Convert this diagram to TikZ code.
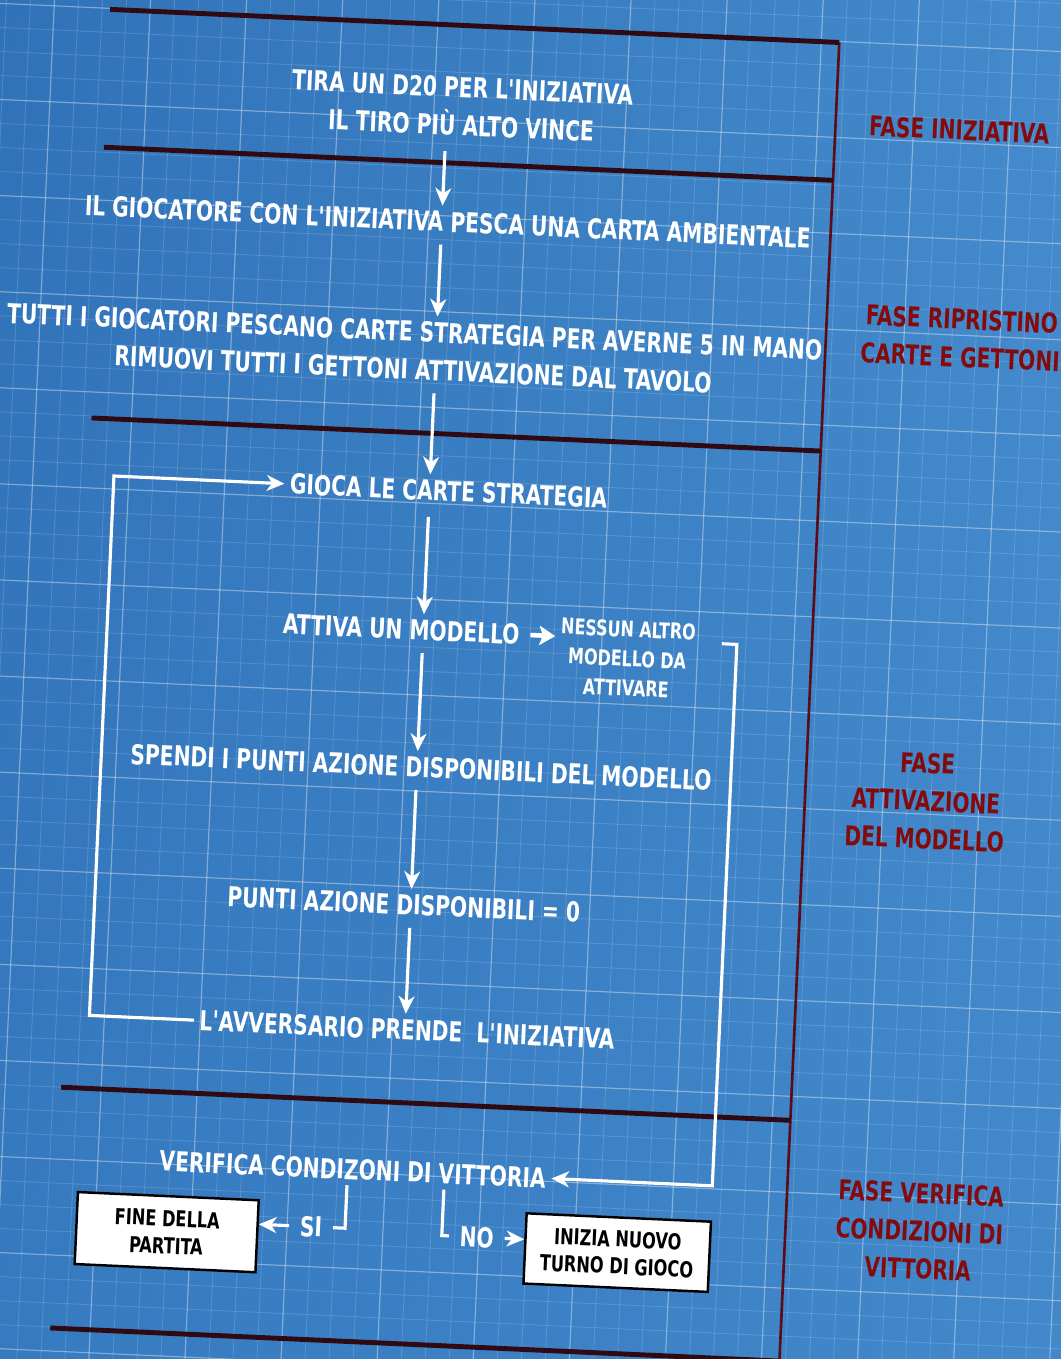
\documentclass[tikz,border=0pt]{standalone}
\usepackage{fontspec}
\usepackage{xcolor}
\usepackage{tikz}
\usetikzlibrary{arrows.meta,shadings}
\newfontfamily\bpfont{DejaVu Sans Condensed}[BoldFont={DejaVu Sans Condensed Bold},FakeStretch=0.82]
\definecolor{bpUL}{RGB}{48,114,184}
\definecolor{bpUR}{RGB}{68,138,204}
\definecolor{bpLL}{RGB}{54,122,192}
\definecolor{bpLR}{RGB}{66,136,202}
\definecolor{lineDark}{RGB}{48,10,18}
\definecolor{lineRed}{RGB}{92,12,22}
\definecolor{phaseRed}{RGB}{132,10,12}

\begin{document}
\begin{tikzpicture}[x=0.02cm,y=-0.02cm]
\tikzstyle{every node}+=[inner sep=0pt]
\tikzstyle{action}=[text=white,align=center,inner sep=3pt,font=\bpfont\bfseries\fontsize{15.6}{21.6}\selectfont]
\tikzstyle{note}=[text=white,align=center,inner sep=3pt,font=\bpfont\bfseries\fontsize{12.3}{16.8}\selectfont]
\tikzstyle{answer}=[text=white,inner sep=6pt,font=\bpfont\bfseries\fontsize{15.6}{21}\selectfont]
\tikzstyle{endbox}=[draw=black,line width=1.4pt,fill=white,text=black,align=center,font=\bpfont\bfseries\fontsize{12.5}{15.5}\selectfont]
\tikzstyle{phase}=[text=phaseRed,align=center,font=\bpfont\bfseries\fontsize{15.5}{21.5}\selectfont]
\tikzstyle{phaseline}=[draw=lineDark,line width=2.8pt]
\tikzstyle{flow}=[draw=white,line width=1.8pt,-{Stealth[length=10pt,width=9pt,inset=3pt]}]
\tikzstyle{link}=[draw=white,line width=1.8pt]
\useasboundingbox (0,0) rectangle (1061,1359);
\shade[upper left=bpUL,upper right=bpUR,lower left=bpLL,lower right=bpLR] (0,0) rectangle (1061,1359);
\begin{scope}
\clip (0,0) rectangle (1061,1359);
\begin{scope}[rotate around={-2.6:(440,680)},transform shape]
\foreach \gx in {-72,-48,...,1176} \draw[white,opacity=0.15,line width=0.5pt] (\gx,-90) -- (\gx,1460);
\foreach \gy in {-72,-48,...,1440} \draw[white,opacity=0.15,line width=0.5pt] (-90,\gy) -- (1180,\gy);
\foreach \gx in {-72,24,...,1176} \draw[white,opacity=0.28,line width=0.7pt] (\gx,-90) -- (\gx,1460);
\foreach \gy in {-72,24,...,1440} \draw[white,opacity=0.28,line width=0.7pt] (-90,\gy) -- (1180,\gy);

\coordinate (topR) at (810,25);
\coordinate (botR) at (810,1420);
\draw[lineRed,line width=1.5pt] (topR) -- (botR);
\draw[phaseline] (80,25) -- (topR);
\draw[phaseline] (80,163) -- (810,163);
\draw[phaseline] (80,434) -- (810,434);
\draw[phaseline] (80,1104) -- (810,1104);
\draw[phaseline] (80,1345) -- (810,1345);

\node[action] (tira) at (436,106) {TIRA UN D20 PER L'INIZIATIVA\\IL TIRO PIÙ ALTO VINCE};
\node[action] (gioc) at (427,222) {IL GIOCATORE CON L'INIZIATIVA PESCA UNA CARTA AMBIENTALE};
\node[action] (tutti) at (399,352) {TUTTI I GIOCATORI PESCANO CARTE STRATEGIA PER AVERNE 5 IN MANO\\RIMUOVI TUTTI I GETTONI ATTIVAZIONE DAL TAVOLO};
\node[action] (gioca) at (440,491) {GIOCA LE CARTE STRATEGIA};
\node[action] (attiva) at (399,631) {ATTIVA UN MODELLO};
\node[note] (nessun) at (626,650) {NESSUN ALTRO\\MODELLO DA\\ATTIVARE};
\node[action] (spendi) at (425,768) {SPENDI I PUNTI AZIONE DISPONIBILI DEL MODELLO};
\node[action] (punti) at (414,906) {PUNTI AZIONE DISPONIBILI = 0};
\node[action] (avv) at (423,1031) {L'AVVERSARIO PRENDE\ \ L'INIZIATIVA};
\node[action] (verif) at (375,1173) {VERIFICA CONDIZONI DI VITTORIA};
\node[endbox,minimum width=103pt,minimum height=41pt] (fine) at (192,1244) {FINE DELLA\\PARTITA};
\node[endbox,minimum width=105pt,minimum height=40pt] (nuovo) at (643,1244) {INIZIA NUOVO\\TURNO DI GIOCO};
\node[answer] (si) at (336,1232) {SI};
\node[answer] (no) at (502,1235) {NO};

\node[phase] (fIni) at (934,107) {FASE INIZIATIVA};
\node[phase] (fRip) at (945,315) {FASE RIPRISTINO\\CARTE E GETTONI};
\node[phase] (fAtt) at (931,779) {FASE\\ATTIVAZIONE\\DEL MODELLO};
\node[phase] (fVer) at (944,1209) {FASE VERIFICA\\CONDIZIONI DI\\VITTORIA};

\coordinate (spine) at (421,0);
\coordinate (loopL) at (105,0);
\coordinate (exitR) at (720,631);
\coordinate (loopR) at (735,0);
\coordinate (siX) at (370,0);
\coordinate (noX) at (467,0);
\draw[flow,shorten <=6pt] (tira.south -| spine) -- (gioc.north -| spine);
\draw[flow,shorten <=4pt] (gioc.south -| spine) -- (tutti.north -| spine);
\draw[flow,shorten <=4pt] (tutti.south -| spine) -- (gioca.north -| spine);
\draw[flow,shorten <=6pt] (gioca.south -| spine) -- (attiva.north -| spine);
\draw[flow,shorten <=4pt] (attiva.south -| spine) -- (spendi.north -| spine);
\draw[flow,shorten <=4pt] (spendi.south -| spine) -- (punti.north -| spine);
\draw[flow,shorten <=4pt] (punti.south -| spine) -- (avv.north -| spine);
\draw[flow] (avv.west) -- (avv.west -| loopL) |- (gioca.west);
\draw[white,line width=2.6pt,-{Stealth[length=9pt,width=11pt,inset=2pt]},shorten <=3pt] (attiva.east) -- (attiva.east -| nessun.west);
\draw[flow] (exitR) -- (exitR -| loopR) |- (verif.east);
\draw[link] (verif.south -| siX) |- (si.east);
\draw[flow] (si.west) -- (si.west -| fine.east);
\draw[link] (verif.south -| noX) |- (no.west);
\draw[flow] (no.east) -- (no.east -| nuovo.west);
\end{scope}
\end{scope}
\end{tikzpicture}
\end{document}
